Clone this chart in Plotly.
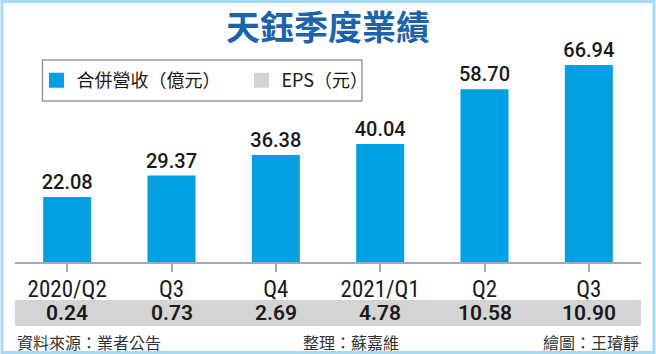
import plotly.graph_objects as go

# ---- data ----
quarters = ["2020/Q2", "Q3", "Q4", "2021/Q1", "Q2", "Q3"]
revenue = [22.08, 29.37, 36.38, 40.04, 58.70, 66.94]
eps = [0.24, 0.73, 2.69, 4.78, 10.58, 10.90]
title_text = "天鈺季度業績"
rev_name = "合併營收（億元）"
eps_name = "EPS（元）"
source_text = "資料來源：業者公告"
editor_text = "整理：蘇嘉維"
artist_text = "繪圖：王璿靜"

W, H = 656, 354
ML, MR, MT, MB = 14.5, 14.5, 40, 92
PW = W - ML - MR
PH = H - MT - MB

def px_x(p):
    return (p - ML) / PW

def px_y(p):
    return (H - MB - p) / PH

CJK = "Noto Sans CJK TC, Noto Sans CJK SC, sans-serif"
NUM = "Roboto, Liberation Sans, sans-serif"
NARROW = "Liberation Sans Narrow, Roboto Condensed, Liberation Sans, sans-serif"

BLUE = "#00a0e3"
GRAY = "#d4d4d4"

pos = list(range(len(quarters)))

fig = go.Figure()
fig.add_trace(go.Bar(
    x=pos, y=revenue, name=rev_name, legendgroup="rev", showlegend=False,
    marker=dict(color=BLUE, line=dict(width=0)),
    width=0.46,
    text=[f"{v:.2f}" for v in revenue],
    textposition="outside",
    textfont=dict(family=NUM, size=20, color="#1a1a1a", weight=500),
    constraintext="none", cliponaxis=False,
))
# legend proxies (square swatches)
fig.add_trace(go.Scatter(
    x=[None], y=[None], mode="markers", name=rev_name, legendgroup="rev",
    marker=dict(symbol="square", size=15, color=BLUE), hoverinfo="skip",
))
fig.add_trace(go.Scatter(
    x=[None], y=[None], mode="markers", name=eps_name, legendgroup="eps",
    marker=dict(symbol="square", size=15, color=GRAY), hoverinfo="skip",
))

annotations = []
for p, e in zip(pos, eps):
    annotations.append(dict(
        x=p, xref="x", y=px_y(313), yref="paper", text=f"{e:.2f}",
        showarrow=False, xanchor="center", yanchor="middle",
        font=dict(family=NUM, size=21, color="#1a1a1a", weight=600),
    ))

annotations += [
    dict(x=px_x(15), y=px_y(342), xref="paper", yref="paper", text=source_text,
         showarrow=False, xanchor="left", yanchor="middle",
         font=dict(family=CJK, size=16, color="#333333")),
    dict(x=px_x(351), y=px_y(342), xref="paper", yref="paper", text=editor_text,
         showarrow=False, xanchor="center", yanchor="middle",
         font=dict(family=CJK, size=16, color="#333333")),
    dict(x=px_x(641), y=px_y(342), xref="paper", yref="paper", text=artist_text,
         showarrow=False, xanchor="right", yanchor="middle",
         font=dict(family=CJK, size=16, color="#333333")),
]

shapes = [
    # EPS band
    dict(type="rect", xref="paper", yref="paper", x0=0, x1=1,
         y0=px_y(300), y1=px_y(326), fillcolor=GRAY, line=dict(width=0), layer="below"),
    # legend box
    dict(type="rect", xref="paper", yref="paper", x0=px_x(42), x1=px_x(362),
         y0=px_y(60), y1=px_y(101), fillcolor="rgba(0,0,0,0)",
         line=dict(color="#9a9a9a", width=1.5)),
    # outer light-blue frame
    dict(type="rect", xref="paper", yref="paper", x0=px_x(1.5), x1=px_x(W - 1.5),
         y0=px_y(1.5), y1=px_y(H - 1.5), fillcolor="rgba(0,0,0,0)",
         line=dict(color="#a9daf3", width=3)),
]

fig.update_layout(
    width=W, height=H,
    margin=dict(l=ML, r=MR, t=MT, b=MB, pad=0),
    paper_bgcolor="white", plot_bgcolor="white",
    title=dict(text=title_text, x=0.5, xref="paper", xanchor="center",
               y=1 - 28 / H, yanchor="middle",
               font=dict(family=CJK, size=34, color="#1c63ac", weight="bold")),
    xaxis=dict(range=[-0.5, 5.5], tickmode="array", tickvals=pos, ticktext=quarters,
               showline=True, linecolor="#a8a8a8", linewidth=1.5, ticks="outside",
               ticklen=8, tickwidth=1.5, tickcolor="#a8a8a8", showgrid=False,
               zeroline=False, ticklabelstandoff=-2,
               tickfont=dict(family=NARROW, size=23, color="#1a1a1a")),
    yaxis=dict(visible=False, range=[0, 75.4]),
    showlegend=True,
    legend=dict(orientation="h", x=px_x(36), y=px_y(62), xanchor="left", yanchor="top",
                bgcolor="rgba(0,0,0,0)", borderwidth=0, itemsizing="trace",
                font=dict(family=CJK, size=18, color="#1a1a1a"),
                entrywidth=160, entrywidthmode="pixels", traceorder="normal"),
    annotations=annotations,
    shapes=shapes,
)

fig.write_html("out.html")
